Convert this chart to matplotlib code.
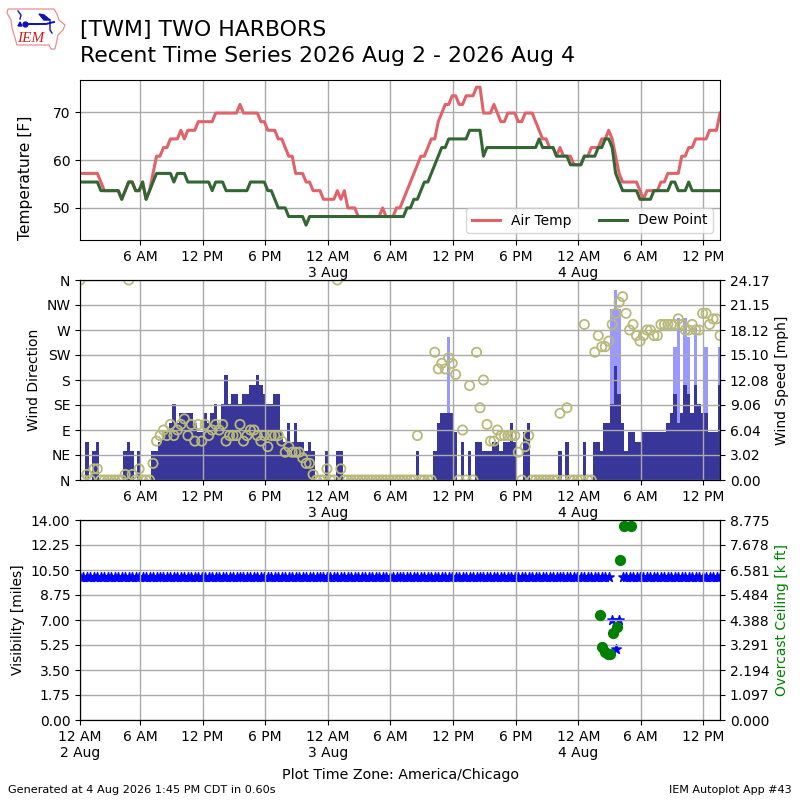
"""Recent time series for TWM: temperature, wind, visibility and ceiling panels."""
import numpy as np
import pandas as pd
import matplotlib
matplotlib.use("Agg")
import matplotlib.pyplot as plt
from matplotlib.patches import Polygon

# 20 minute observations, 00:15 on 2 Aug through 13:35 on 4 Aug
TIMES = pd.date_range("2026-08-02 00:15", periods=185, freq="20min")

TEMP_C = [
    14, 14, 14, 14, 14, 14, 13, 12, 12, 12,
    12, 12, 11, 12, 13, 13, 12, 12, 13, 11,
    12, 14, 16, 16, 17, 17, 18, 18, 18, 19,
    18, 19, 19, 19, 20, 20, 20, 20, 20, 21,
    21, 21, 21, 21, 21, 21, 22, 21, 21, 21,
    21, 21, 20, 20, 19, 19, 19, 18, 18, 17,
    16, 16, 14, 14, 14, 13, 13, 12, 12, 12,
    11, 11, 11, 11, 12, 11, 12, 10, 10, 10,
    9, 9, 9, 9, 9, 9, 9, 10, 9, 9,
    9, 10, 10, 11, 12, 13, 14, 15, 16, 16,
    17, 18, 18, 20, 21, 22, 22, 23, 23, 22,
    22, 23, 23, 23, 24, 24, 21, 21, 21, 22,
    21, 20, 20, 21, 21, 21, 20, 20, 21, 21,
    21, 20, 19, 18, 18, 17, 17, 16, 17, 16,
    16, 16, 15, 15, 15, 16, 16, 17, 17, 17,
    18, 18, 19, 18, 16, 14, 13, 13, 13, 13,
    13, 12, 11, 12, 12, 12, 12, 13, 13, 14,
    14, 14, 14, 16, 16, 17, 17, 18, 18, 18,
    18, 19, 19, 19, 21,
]
DEW_C = [
    13, 13, 13, 13, 13, 13, 12, 12, 12, 12,
    12, 12, 11, 12, 13, 13, 12, 12, 13, 11,
    12, 13, 14, 14, 14, 14, 14, 13, 14, 14,
    14, 13, 13, 13, 13, 13, 13, 13, 12, 13,
    13, 13, 12, 12, 12, 12, 12, 12, 12, 13,
    13, 13, 13, 13, 12, 12, 11, 10, 10, 10,
    9, 9, 9, 9, 9, 8, 9, 9, 9, 9,
    9, 9, 9, 9, 9, 9, 9, 9, 9, 9,
    9, 9, 9, 9, 9, 9, 9, 9, 9, 9,
    9, 9, 9, 9, 10, 10, 11, 11, 12, 13,
    13, 14, 15, 16, 17, 17, 18, 18, 18, 18,
    18, 18, 19, 19, 19, 19, 16, 17, 17, 17,
    17, 17, 17, 17, 17, 17, 17, 17, 17, 17,
    17, 17, 18, 17, 17, 17, 17, 16, 16, 16,
    16, 15, 15, 15, 15, 16, 16, 16, 16, 17,
    17, 18, 18, 17, 14, 13, 12, 12, 12, 12,
    12, 11, 11, 11, 11, 12, 12, 12, 12, 12,
    13, 13, 12, 12, 12, 13, 12, 12, 12, 12,
    12, 12, 12, 12, 12,
]
WIND_KT = [
    0, 0, 4, 0, 3, 4, 0, 0, 0, 0,
    0, 0, 0, 3, 4, 3, 0, 3, 0, 0,
    0, 3, 3, 4, 5, 5, 6, 8, 6, 7,
    7, 7, 7, 6, 5, 5, 7, 6, 7, 8,
    6, 8, 11, 8, 9, 9, 8, 9, 9, 10,
    10, 11, 10, 9, 8, 8, 9, 9, 5, 4,
    6, 4, 6, 4, 4, 3, 4, 3, 0, 0,
    0, 3, 0, 0, 3, 3, 0, 0, 0, 0,
    0, 0, 0, 0, 0, 0, 0, 0, 0, 0,
    0, 0, 0, 0, 0, 0, 0, 3, 0, 0,
    0, 0, 3, 6, 7, 7, 7, 7, 5, 0,
    4, 0, 3, 0, 4, 4, 3, 3, 3, 4,
    4, 3, 4, 4, 6, 4, 0, 0, 5, 6,
    0, 0, 0, 0, 0, 0, 0, 0, 3, 0,
    4, 0, 0, 0, 0, 4, 0, 0, 4, 4,
    3, 6, 6, 8, 12, 9, 6, 3, 5, 5,
    4, 4, 5, 5, 5, 5, 5, 5, 5, 6,
    7, 9, 6, 7, 10, 9, 7, 10, 8, 7,
    7, 5, 5, 5, 10,
]
WIND_DIR = [
    360, 0, 10, 0, 20, 20, 0, 0, 0, 0,
    0, 0, 0, 10, 360, 10, 0, 20, 0, 0,
    0, 30, 70, 80, 90, 80, 100, 80, 90, 100,
    110, 80, 100, 70, 100, 70, 100, 80, 90, 100,
    90, 100, 70, 80, 80, 80, 100, 70, 80, 90,
    90, 80, 70, 80, 60, 80, 80, 80, 70, 50,
    60, 50, 50, 50, 40, 30, 30, 10, 0, 0,
    0, 20, 0, 0, 360, 20, 0, 0, 0, 0,
    0, 0, 0, 0, 0, 0, 0, 0, 0, 0,
    0, 0, 0, 0, 0, 0, 0, 80, 0, 0,
    0, 0, 230, 200, 210, 200, 220, 210, 190, 0,
    90, 0, 170, 0, 230, 130, 180, 100, 70, 70,
    90, 80, 80, 80, 80, 80, 50, 0, 60, 80,
    0, 0, 0, 0, 0, 0, 0, 0, 120, 0,
    130, 0, 0, 0, 0, 280, 0, 0, 230, 260,
    240, 240, 250, 280, 300, 320, 330, 300, 270, 280,
    260, 250, 260, 270, 270, 260, 260, 280, 280, 280,
    280, 280, 290, 280, 270, 270, 280, 270, 270, 300,
    300, 280, 290, 290, 260,
]
GUST_INDEX = [106, 153, 154, 155, 171, 172, 174, 175, 177, 180, 184]
GUST_KT = [15, 18, 20, 18, 14, 17, 17, 15, 16, 14, 14]

VIS_MILES = [10] * 153 + [7, 5, 7] + [10] * 29

CEIL_TIMES = pd.to_datetime([
    "2026-08-04 02:03", "2026-08-04 02:19", "2026-08-04 02:35", "2026-08-04 02:51",
    "2026-08-04 03:03", "2026-08-04 03:19", "2026-08-04 03:43", "2026-08-04 04:01",
    "2026-08-04 04:21", "2026-08-04 05:01",
])
CEIL_KFT = [4.6, 3.2, 3.0, 2.9, 2.9, 3.8, 4.1, 7.0, 8.5, 8.5]

DIR_LABELS = ["N", "NE", "E", "SE", "S", "SW", "W", "NW", "N"]
TICK_TIMES = pd.date_range("2026-08-02 06:00", periods=10, freq="6h")

GRID = "#aaaaaa"
MPH_PER_KT = 1.15078
SPEED_TOP_KT = 21
BAR_WIDTH = pd.Timedelta(minutes=20)


def time_label(t):
    label = t.strftime("%-I %p")
    if t.hour == 0:
        label += "\n" + t.strftime("%-d %b")
    return label


def setup_time_axis(ax, extra=None):
    ticks = list(TICK_TIMES)
    labels = [time_label(t) for t in TICK_TIMES]
    if extra is not None:
        ticks = [extra] + ticks
        labels = ["12 AM\n2 Aug"] + labels
    ax.set_xticks(ticks)
    ax.set_xticklabels(labels)
    ax.set_xlim(TIMES[0], TIMES[-1])
    ax.grid(True, color=GRID, linewidth=1.0)


def draw_logo(fig):
    # one data unit is one pixel, origin at the top left of the figure
    logo = fig.add_axes([0, 1 - 56 / 800, 70 / 800, 56 / 800])
    logo.set_xlim(0, 70)
    logo.set_ylim(56, 0)
    logo.axis("off")
    outline = [(8, 9), (54, 9), (57, 14), (59, 20), (65, 25), (63, 30), (58, 35), (57, 40),
               (55, 49), (51, 49), (49, 45), (17, 45), (15, 38), (12, 28), (11, 20), (7, 13)]
    logo.add_patch(Polygon(outline, closed=True, facecolor="white",
                           edgecolor="#e89090", linewidth=0.9))
    logo.plot([25, 46, 54], [24, 24, 22], color="#1010c0", linewidth=1.4)
    logo.plot([25], [24], "o", color="#1010c0", markersize=3.5)
    logo.plot([50, 50, 52], [20, 30, 33], color="#1010c0", linewidth=1)
    logo.add_patch(Polygon([(39, 14), (44, 15), (50, 20), (44, 20)], closed=True,
                           color="#1010c0"))
    logo.plot([18, 21, 20], [11, 15, 19], color="#1010c0", linewidth=1)
    logo.add_patch(Polygon([(18, 26), (20, 22), (22, 26)], closed=True, color="#1010c0"))
    logo.text(30.7, 38.5, "IEM", family="Liberation Serif", style="italic",
              color="#d02020", fontsize=11, ha="center", va="center")


def main():
    temp_f = np.array(TEMP_C) * 9 / 5 + 32
    dew_f = np.array(DEW_C) * 9 / 5 + 32
    wind_mph = np.array(WIND_KT) * MPH_PER_KT
    gust_mph = np.array(GUST_KT) * MPH_PER_KT

    fig = plt.figure(figsize=(8, 8), dpi=100)
    ax_temp = fig.add_axes([0.1, 0.7, 0.8, 0.2])
    ax_wind = fig.add_axes([0.1, 0.4, 0.8, 0.25])
    ax_vis = fig.add_axes([0.1, 0.1, 0.8, 0.25])

    # ---- Temperature -------------------------------------------------------
    ax_temp.plot(TIMES, temp_f, color="#e0626a", linewidth=2.2, label="Air Temp")
    ax_temp.plot(TIMES, dew_f, color="#336633", linewidth=2.2, label="Dew Point")
    setup_time_axis(ax_temp)
    ax_temp.set_ylim(43.3, 76.7)
    ax_temp.set_yticks([50, 60, 70])
    ax_temp.set_ylabel("Temperature [F]", loc="bottom", fontsize=11.2, labelpad=14)
    ax_temp.legend(loc="lower right", ncol=2)

    # ---- Wind: speed bars on the right scale, direction on the left --------
    ax_wind.bar(TIMES[GUST_INDEX], gust_mph, width=BAR_WIDTH, color="#9999ff")
    ax_wind.bar(TIMES, wind_mph, width=BAR_WIDTH, color="#383698")
    setup_time_axis(ax_wind)
    speed_top = SPEED_TOP_KT * MPH_PER_KT
    ax_wind.set_ylim(0, speed_top)
    speed_ticks = np.linspace(0, speed_top, 9)
    ax_wind.set_yticks(speed_ticks)
    ax_wind.set_yticklabels([f"{v:.2f}" for v in speed_ticks])

    ax_dir = ax_wind.twinx()
    ax_dir.scatter(TIMES, WIND_DIR, s=44, facecolors="none", edgecolors="#b9b97c",
                   linewidths=1.3)
    ax_dir.set_ylim(0, 360)
    ax_dir.set_yticks(np.arange(0, 361, 45))
    ax_dir.set_yticklabels(DIR_LABELS)
    ax_dir.set_xlim(TIMES[0], TIMES[-1])
    # twinx puts the new axis on the right, swap so that direction reads on the left
    ax_dir.yaxis.tick_left()
    ax_dir.yaxis.set_label_position("left")
    ax_dir.set_ylabel("Wind Direction")
    ax_wind.yaxis.tick_right()
    ax_wind.yaxis.set_label_position("right")
    ax_wind.set_ylabel("Wind Speed [mph]")

    # ---- Visibility and ceiling --------------------------------------------
    ax_vis.scatter(TIMES, VIS_MILES, marker="*", s=50, color="blue")
    setup_time_axis(ax_vis, extra=TIMES[0])
    ax_vis.set_ylim(0, 14)
    vis_ticks = np.arange(0, 14.01, 1.75)
    ax_vis.set_yticks(vis_ticks)
    ax_vis.set_yticklabels([f"{v:.2f}" for v in vis_ticks])
    ax_vis.set_ylabel("Visibility [miles]")

    ax_ceil = ax_vis.twinx()
    ax_ceil.scatter(CEIL_TIMES, CEIL_KFT, s=50, color="green")
    ax_ceil.set_ylim(0, 8.775)
    ceil_ticks = np.linspace(0, 8.775, 9)
    ax_ceil.set_yticks(ceil_ticks)
    ax_ceil.set_yticklabels([f"{v:.3f}" for v in ceil_ticks])
    ax_ceil.set_ylabel("Overcast Ceiling [k ft]", color="green")
    ax_ceil.set_xlim(TIMES[0], TIMES[-1])

    # ---- Titles and footers ------------------------------------------------
    fig.text(0.1, 0.9625, "[TWM] TWO HARBORS", fontsize=15.8, va="center")
    fig.text(0.1, 0.9295, "Recent Time Series 2026 Aug 2 - 2026 Aug 4", fontsize=15.8, va="center")
    fig.text(0.5, 0.031, "Plot Time Zone: America/Chicago", fontsize=10.3, ha="center", va="center")
    fig.text(0.01, 0.0125, "Generated at 4 Aug 2026 1:45 PM CDT in 0.60s", fontsize=8.1, va="center")
    fig.text(0.99, 0.0125, "IEM Autoplot App #43", fontsize=8, ha="right", va="center")
    draw_logo(fig)

    fig.savefig("out.png", dpi=100)


if __name__ == "__main__":
    main()
